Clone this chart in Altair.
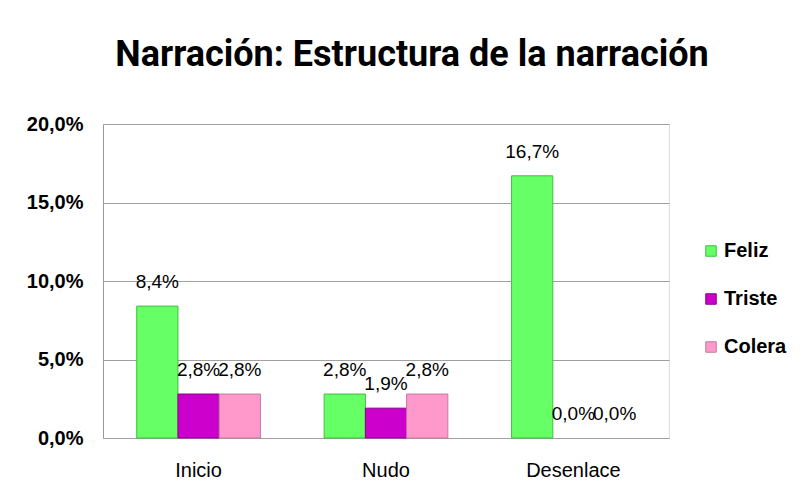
import altair as alt
import pandas as pd

categories = ["Inicio", "Nudo", "Desenlace"]
series = ["Feliz", "Triste", "Colera"]
feliz = [0.084, 0.028, 0.167]
triste = [0.028, 0.019, 0.0]
colera = [0.028, 0.028, 0.0]
colors = ["#66FF66", "#CC00CC", "#FF99CC"]
strokes = ["#3FBF3F", "#8A008A", "#C47A9A"]

rows = []
for s, vals in zip(series, [feliz, triste, colera]):
    for c, v in zip(categories, vals):
        rows.append({"cat": c, "serie": s, "val": v})
df = pd.DataFrame(rows)

FONT = "Liberation Sans"

x = alt.X("cat:N", sort=categories, title=None,
          scale=alt.Scale(paddingInner=0.34, paddingOuter=0.18),
          axis=alt.Axis(labelAngle=0, labelFont=FONT, labelFontSize=20, labelFontWeight="normal",
                        labelColor="#000000", labelPadding=22, ticks=False, domain=False))
xo = alt.XOffset("serie:N", sort=series, scale=alt.Scale(domain=series))
y = alt.Y("val:Q", title=None,
          scale=alt.Scale(domain=[0, 0.2]),
          axis=alt.Axis(values=[0, 0.05, 0.1, 0.15, 0.2],
                        labelExpr="replace(format(datum.value, '.1%'), '.', ',')",
                        labelFont=FONT, labelFontSize=20, labelFontWeight="bold",
                        labelColor="#000000", labelPadding=20, ticks=False,
                        domain=True, domainColor="#999999", gridColor="#A0A0A0",
                        gridWidth=1.2))

bars = alt.Chart(df).transform_filter("datum.val > 0").mark_bar(strokeWidth=1).encode(
    x=x, xOffset=xo, y=y,
    color=alt.Color("serie:N", sort=series,
                    scale=alt.Scale(domain=series, range=colors),
                    legend=alt.Legend(title=None, orient="none", legendX=598, legendY=117,
                                      symbolType="square", symbolSize=110,
                                      symbolStrokeWidth=1, symbolStrokeColor="#777777",
                                      labelFont=FONT, labelFontSize=20, labelFontWeight="bold",
                                      labelColor="#000000", rowPadding=28, labelOffset=3)),
    stroke=alt.Stroke("serie:N", sort=series,
                      scale=alt.Scale(domain=series, range=strokes), legend=None),
)

labels = alt.Chart(df).transform_calculate(
    lab="replace(format(datum.val, '.1%'), '.', ',')"
).mark_text(baseline="bottom", dy=-14, font=FONT, fontSize=19, color="#000000").encode(
    x=x, xOffset=xo, y=y, text="lab:N"
)

chart = alt.layer(bars, labels).properties(
    width=566, height=314,
    title=alt.TitleParams("Narración: Estructura de la narración", font="Roboto",
                          fontSize=36, fontWeight="bold", color="#000000", anchor="middle",
                          dx=26, offset=40),
    padding={"left": 18, "top": 29, "right": 5, "bottom": 5},
).configure_view(stroke=None).configure(background="white")

chart.save("out.html", embed_options={"renderer": "svg", "actions": False})
